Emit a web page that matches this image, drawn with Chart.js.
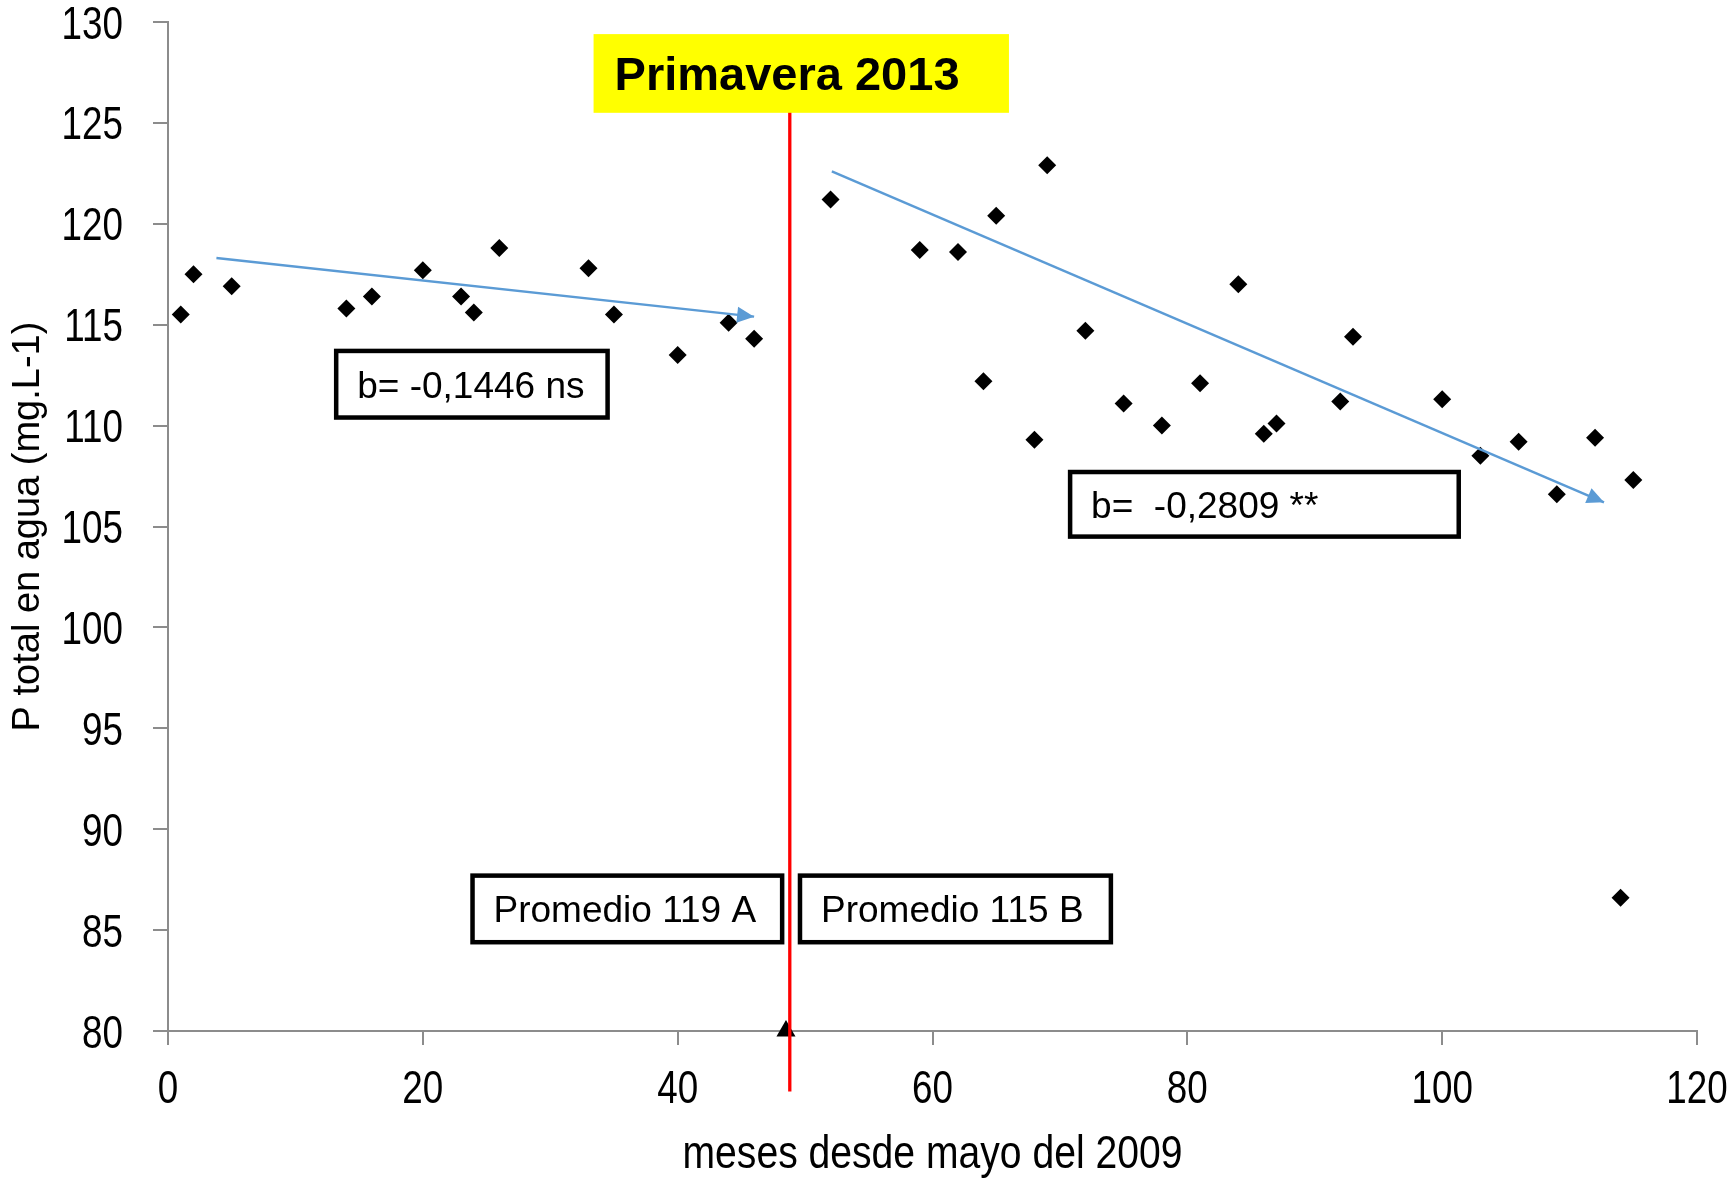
<!DOCTYPE html>
<html>
<head>
<meta charset="utf-8">
<script src="https://cdn.jsdelivr.net/npm/chart.js@4.4.0/dist/chart.umd.min.js"></script>
<style>
  html, body { margin: 0; padding: 0; background: #fff; }
  #wrap { width: 1733px; height: 1178px; }
</style>
</head>
<body>
<div id="wrap"><canvas id="pChart"></canvas></div>
<script>
// meses desde mayo 2009 / P total (mg/L), antes y despues de la primavera 2013
var mesesAntes = [1, 2, 5, 14, 16, 20, 23, 24, 26, 33, 35, 40, 44, 46];
var pAntes = [115.5, 117.5, 116.9, 115.8, 116.4, 117.7, 116.4, 115.6, 118.8, 117.8, 115.5, 113.5, 115.1, 114.3];

var mesesDespues = [52, 59, 62, 64, 65, 68, 69, 72, 75, 78, 81, 84, 86, 87, 92, 93, 100, 103, 106, 109, 112, 114, 115];
var pDespues = [121.2, 118.7, 118.6, 112.2, 120.4, 109.3, 122.9, 114.7, 111.1, 110.0, 112.1, 117.0, 109.6, 110.1, 111.2, 114.4, 111.3, 108.5, 109.2, 106.6, 109.4, 86.6, 107.3];

// flechas de tendencia (inicio, fin)
var tendAntesX = [3.8, 46.0];
var tendAntesY = [118.3, 115.4];
var tendDespuesX = [52.1, 112.7];
var tendDespuesY = [122.6, 106.2];

// linea de la primavera 2013 y marca sobre el eje
var primaveraX = [48.8, 48.8];
var primaveraY = [77.0, 127.0];
var marcaX = [48.5];
var marcaY = [80];

var xTicks = [0, 20, 40, 60, 80, 100, 120];
var yTicks = [80, 85, 90, 95, 100, 105, 110, 115, 120, 125, 130];
var tituloX = 'meses desde mayo del 2009';
var tituloY = 'P total en agua (mg.L-1)';

function puntos(xs, ys) {
  return xs.map(function(x, i) { return { x: x, y: ys[i] }; });
}

// cuadros de texto, en unidades de los ejes
var cuadros = [
  { texto: 'b= -0,1446 ns', x0: 13.2, x1: 34.5, y0: 113.7, y1: 110.4 },
  { texto: 'b=  -0,2809 **', x0: 70.8, x1: 101.3, y0: 107.7, y1: 104.5 },
  { texto: 'Promedio 119 A', x0: 23.9, x1: 48.2, y0: 87.7, y1: 84.4 },
  { texto: 'Promedio 115 B', x0: 49.6, x1: 74.0, y0: 87.7, y1: 84.4 }
];
var rotulo = { texto: 'Primavera 2013', x0: 33.4, x1: 66.0, y0: 129.4, y1: 125.5 };

var sans = "'Liberation Sans', Arial, sans-serif";
var gris = '#8c8c8c';
var azul = '#5B9BD5';

// texto estrecho: Liberation Sans comprimida en horizontal
function textoEstrecho(ctx, txt, x, y, align, size, sx) {
  ctx.save();
  ctx.font = size + 'px ' + sans;
  ctx.textAlign = align;
  ctx.textBaseline = 'alphabetic';
  ctx.fillStyle = '#000';
  ctx.scale(sx, 1);
  ctx.fillText(txt, x / sx, y);
  ctx.restore();
}

var etiquetas = {
  id: 'etiquetas',
  afterDraw: function(chart) {
    var ctx = chart.ctx;
    var xs = chart.scales.x, ys = chart.scales.y;
    xs.ticks.forEach(function(t) {
      textoEstrecho(ctx, String(t.value), xs.getPixelForValue(t.value), xs.top + 72, 'center', 46, 0.8);
    });
    ys.ticks.forEach(function(t) {
      textoEstrecho(ctx, String(t.value), ys.right - 45, ys.getPixelForValue(t.value) + 16.5, 'right', 46, 0.8);
    });
    textoEstrecho(ctx, tituloX, (chart.chartArea.left + chart.chartArea.right) / 2, xs.bottom - 10, 'center', 46, 0.85);
  }
};

var notas = {
  id: 'notas',
  afterDatasetsDraw: function(chart) {
    var ctx = chart.ctx;
    var xs = chart.scales.x, ys = chart.scales.y;

    // puntas de flecha al final de cada tendencia
    [1, 2].forEach(function(i) {
      var pts = chart.getDatasetMeta(i).data;
      var a = pts[pts.length - 2], b = pts[pts.length - 1];
      var ang = Math.atan2(b.y - a.y, b.x - a.x);
      ctx.save();
      ctx.translate(b.x, b.y);
      ctx.rotate(ang);
      ctx.fillStyle = azul;
      ctx.beginPath();
      ctx.moveTo(0, 0);
      ctx.lineTo(-17, -8);
      ctx.lineTo(-17, 8);
      ctx.closePath();
      ctx.fill();
      ctx.restore();
    });

    ctx.save();
    ctx.textBaseline = 'alphabetic';
    ctx.textAlign = 'left';

    // rotulo amarillo
    var l = xs.getPixelForValue(rotulo.x0), r = xs.getPixelForValue(rotulo.x1);
    var t = ys.getPixelForValue(rotulo.y0), bt = ys.getPixelForValue(rotulo.y1);
    ctx.fillStyle = '#FFFF00';
    ctx.fillRect(l, t, r - l, bt - t);
    ctx.fillStyle = '#000';
    ctx.font = 'bold 47px ' + sans;
    ctx.fillText(rotulo.texto, l + 21, (t + bt) / 2 + 17);

    // cuadros con borde negro
    ctx.font = '37px ' + sans;
    ctx.lineWidth = 4.5;
    ctx.strokeStyle = '#000';
    cuadros.forEach(function(c) {
      var x0 = xs.getPixelForValue(c.x0), x1 = xs.getPixelForValue(c.x1);
      var y0 = ys.getPixelForValue(c.y0), y1 = ys.getPixelForValue(c.y1);
      ctx.fillStyle = '#fff';
      ctx.fillRect(x0, y0, x1 - x0, y1 - y0);
      ctx.strokeRect(x0, y0, x1 - x0, y1 - y0);
      ctx.fillStyle = '#000';
      ctx.fillText(c.texto, x0 + 21, (y0 + y1) / 2 + 13.5);
    });
    ctx.restore();
  }
};

new Chart(document.getElementById('pChart'), {
  type: 'scatter',
  data: {
    datasets: [
      {
        data: puntos(primaveraX, primaveraY),
        showLine: true, borderColor: '#FF0000', borderWidth: 3.3,
        pointRadius: 0, clip: false
      },
      {
        data: puntos(tendAntesX, tendAntesY),
        showLine: true, borderColor: azul, borderWidth: 2.5, pointRadius: 0
      },
      {
        data: puntos(tendDespuesX, tendDespuesY),
        showLine: true, borderColor: azul, borderWidth: 2.5, pointRadius: 0
      },
      {
        data: puntos(marcaX, marcaY),
        pointStyle: 'triangle', pointRadius: 11,
        backgroundColor: '#000', borderColor: '#000', borderWidth: 0, clip: false
      },
      {
        data: puntos(mesesAntes, pAntes),
        pointStyle: 'rectRot', pointRadius: 9,
        backgroundColor: '#000', borderColor: '#000', borderWidth: 0
      },
      {
        data: puntos(mesesDespues, pDespues),
        pointStyle: 'rectRot', pointRadius: 9,
        backgroundColor: '#000', borderColor: '#000', borderWidth: 0
      }
    ]
  },
  options: {
    responsive: true,
    maintainAspectRatio: false,
    devicePixelRatio: 1,
    animation: false,
    events: [],
    layout: { padding: { left: 0, right: 36, top: 22, bottom: 0 } },
    plugins: {
      legend: { display: false },
      tooltip: { enabled: false }
    },
    scales: {
      x: {
        type: 'linear',
        min: xTicks[0],
        max: xTicks[xTicks.length - 1],
        afterBuildTicks: function(s) { s.ticks = xTicks.map(function(v) { return { value: v }; }); },
        ticks: { display: false },
        grid: { drawOnChartArea: false, drawTicks: true, tickLength: 14, color: gris, lineWidth: 2 },
        border: { display: true, color: gris, width: 2 },
        title: { display: false },
        afterFit: function(s) { s.height = 147; s.paddingLeft = 0; s.paddingRight = 0; }
      },
      y: {
        type: 'linear',
        min: yTicks[0],
        max: yTicks[yTicks.length - 1],
        afterBuildTicks: function(s) { s.ticks = yTicks.map(function(v) { return { value: v }; }); },
        ticks: { display: false },
        grid: { drawOnChartArea: false, drawTicks: true, tickLength: 15, color: gris, lineWidth: 2 },
        border: { display: true, color: gris, width: 2 },
        title: {
          display: true, text: tituloY, color: '#000',
          font: { family: sans, size: 38, lineHeight: 1.2 },
          padding: { top: 6, bottom: 0 }
        },
        afterFit: function(s) { s.width = 168; s.paddingTop = 0; s.paddingBottom = 0; }
      }
    }
  },
  plugins: [notas, etiquetas]
});
</script>
</body>
</html>
